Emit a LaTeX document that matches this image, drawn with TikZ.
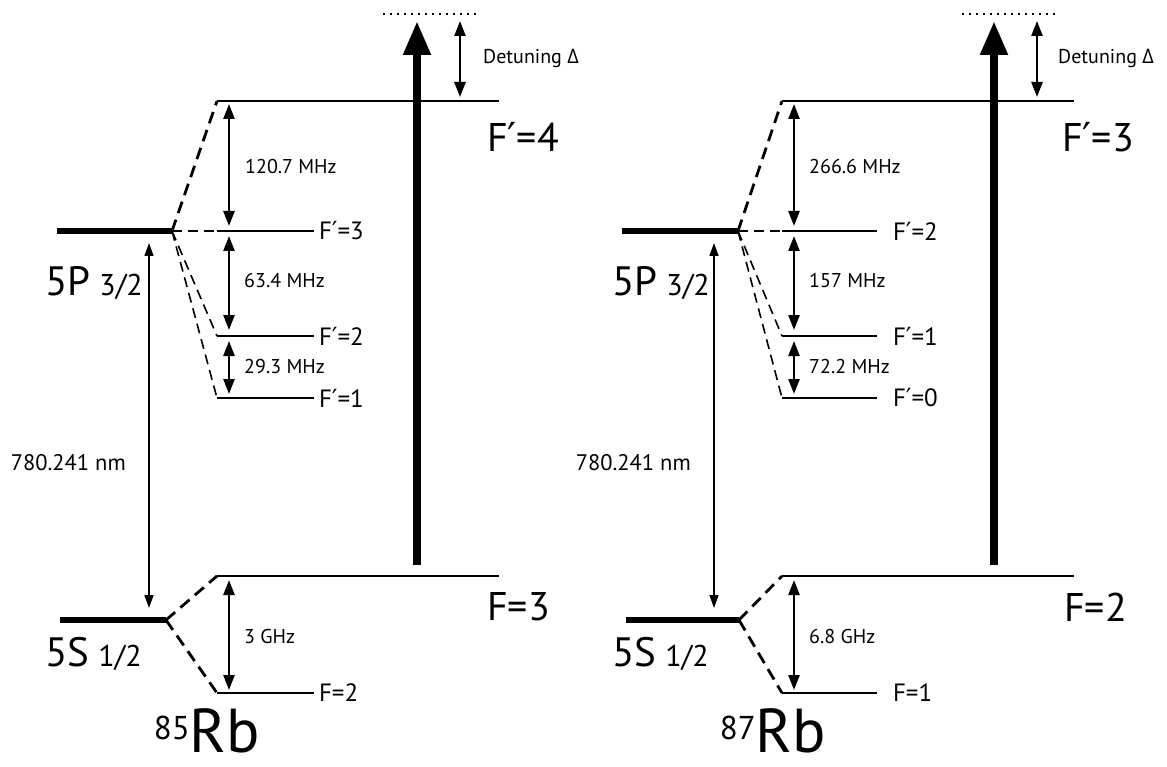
\documentclass[tikz,border=0pt]{standalone}
\usepackage{fontspec}
\setmainfont{PT Sans}
\newfontfamily\grk{Open Sans}
\newfontfamily\djv{DejaVu Sans}
\usetikzlibrary{arrows.meta}

\newcommand{\pr}{{\djv\char"2032}}
\newcommand{\smalltxt}{\fontsize{20}{22}\selectfont}
\newcommand{\nmtxt}{\fontsize{22.5}{24}\selectfont}
\newcommand{\midtxt}{\fontsize{25}{28}\selectfont}
\newcommand{\bigtxt}{\fontsize{40}{44}\selectfont}
\newcommand{\termtxt}[2]{{\fontsize{41}{44}\selectfont #1}\hspace{9pt}{\fontsize{30}{32}\selectfont #2}}
\newcommand{\isotxt}[1]{\raisebox{13pt}{\fontsize{33}{35}\selectfont #1}{\fontsize{62}{64}\selectfont Rb}}

\tikzset{
  level/.style={line width=2pt},
  fine level/.style={line width=6.5pt},
  split/.style={line width=2.8pt, dash pattern=on 12pt off 7pt},
  thin split/.style={line width=1.6pt, dash pattern=on 10pt off 6pt},
  gap/.style={{Triangle[length=15pt,width=11pt]}-{Triangle[length=15pt,width=11pt]}, line width=2.4pt},
  optical/.style={{Triangle[length=13pt,width=9pt]}-{Triangle[length=13pt,width=9pt]}, line width=1.5pt},
  laser/.style={-{Triangle[length=34pt,width=26pt]}, line width=8pt},
  detune/.style={line width=2pt, dash pattern=on 2pt off 5pt},
  lbl/.style={inner sep=0pt, anchor=west},
}

\begin{document}
\begin{tikzpicture}[x=1pt,y=-1pt]
   \useasboundingbox (0,0) rectangle (1167,767);
   % ---------- 85Rb ----------
   \coordinate (a5P) at (172,231);
   \coordinate (a5S) at (166,620);
   \coordinate (aF4) at (217,101);
   \coordinate (aF3) at (217,231);
   \coordinate (aF2) at (217,336);
   \coordinate (aF1) at (217,398);
   \coordinate (ag3) at (217,576);
   \coordinate (ag2) at (217,693);
   \draw [fine level] (57,231) -- (a5P);
   \draw [fine level] (60,620) -- (a5S);
   \draw [level] (aF4) -- ++(282,0);
   \draw [level] (aF3) -- ++(97,0) node[lbl,xshift=4pt] (aF3t) {\midtxt F\pr=3};
   \draw [level] (aF2) -- ++(97,0) node[lbl,xshift=4pt] (aF2t) {\midtxt F\pr=2};
   \draw [level] (aF1) -- ++(97,0) node[lbl,xshift=4pt] (aF1t) {\midtxt F\pr=1};
   \draw [level] (ag3) -- ++(282,0);
   \draw [level] (ag2) -- ++(97,0) node[lbl,xshift=4pt] (ag2t) {\midtxt F=2};
   \draw [split] (a5P) -- (aF4);
   \draw [thin split] (a5P) -- (aF3);
   \draw [thin split] (a5P) -- (aF2);
   \draw [thin split] (a5P) -- (aF1);
   \draw [split] (a5S) -- (ag3);
   \draw [split] (a5S) -- (ag2);
   \draw [gap] ([shift={(12,3)}]aF4) -- ([shift={(12,-5)}]aF3);
   \draw [gap] ([shift={(12,5)}]aF3) -- ([shift={(12,-6)}]aF2);
   \draw [gap] ([shift={(12,5)}]aF2) -- ([shift={(12,-4)}]aF1);
   \draw [gap] ([shift={(12,4)}]ag3) -- ([shift={(12,-3)}]ag2);
   \node[lbl] (a1207) at (245,167) {\smalltxt 120.7 MHz};
   \node[lbl] (a634) at (244,281) {\smalltxt 63.4 MHz};
   \node[lbl] (a293) at (244,366) {\smalltxt 29.3 MHz};
   \node[lbl] (a3G) at (244,636) {\smalltxt 3 GHz};
   \draw [optical] (149,243) -- (149,608);
   \node[inner sep=0pt, anchor=east] (a780) at (126,463) {\nmtxt 780.241 nm};
   \draw [laser] (417,565) -- (417,21);
   \draw [detune] (383,14) -- (478,14);
   \draw [gap] (460,21) -- (460,97);
   \node[lbl] (adet) at (483,58) {\smalltxt Detuning {\grk Δ}};
   \node[lbl] (aF4t) at (487,137) {\bigtxt F\pr=4};
   \node[lbl] (ag3t) at (487,607) {\bigtxt F=3};
   \node[lbl] (a5Pt) at (45,283) {\termtxt{5P}{3/2}};
   \node[lbl] (a5St) at (45,654) {\termtxt{5S}{1/2}};
   \node (a85) at (207,731) {\isotxt{85}};
   % ---------- 87Rb ----------
   \coordinate (b5P) at (738,231);
   \coordinate (b5S) at (739,620);
   \coordinate (bF3) at (782,101);
   \coordinate (bF2) at (782,231);
   \coordinate (bF1) at (782,336);
   \coordinate (bF0) at (782,398);
   \coordinate (bg2) at (782,576);
   \coordinate (bg1) at (782,693);
   \draw [fine level] (622,231) -- (b5P);
   \draw [fine level] (626,620) -- (b5S);
   \draw [level] (bF3) -- ++(292,0);
   \draw [level] (bF2) -- ++(95,0) node[lbl,xshift=15pt] (bF2t) {\midtxt F\pr=2};
   \draw [level] (bF1) -- ++(95,0) node[lbl,xshift=15pt] (bF1t) {\midtxt F\pr=1};
   \draw [level] (bF0) -- ++(95,0) node[lbl,xshift=15pt] (bF0t) {\midtxt F\pr=0};
   \draw [level] (bg2) -- ++(292,0);
   \draw [level] (bg1) -- ++(95,0) node[lbl,xshift=15pt] (bg1t) {\midtxt F=1};
   \draw [split] (b5P) -- (bF3);
   \draw [thin split] (b5P) -- (bF2);
   \draw [thin split] (b5P) -- (bF1);
   \draw [thin split] (b5P) -- (bF0);
   \draw [split] (b5S) -- (bg2);
   \draw [split] (b5S) -- (bg1);
   \draw [gap] ([shift={(12,3)}]bF3) -- ([shift={(12,-5)}]bF2);
   \draw [gap] ([shift={(12,5)}]bF2) -- ([shift={(12,-6)}]bF1);
   \draw [gap] ([shift={(12,5)}]bF1) -- ([shift={(12,-4)}]bF0);
   \draw [gap] ([shift={(12,4)}]bg2) -- ([shift={(12,-3)}]bg1);
   \node[lbl] (b2666) at (809,167) {\smalltxt 266.6 MHz};
   \node[lbl] (b157) at (809,281) {\smalltxt 157 MHz};
   \node[lbl] (b722) at (809,366) {\smalltxt 72.2 MHz};
   \node[lbl] (b68G) at (809,636) {\smalltxt 6.8 GHz};
   \draw [optical] (714,243) -- (714,608);
   \node[inner sep=0pt, anchor=east] (b780) at (691,463) {\nmtxt 780.241 nm};
   \draw [laser] (994,565) -- (994,21);
   \draw [detune] (962,14) -- (1058,14);
   \draw [gap] (1037,21) -- (1037,97);
   \node[lbl] (bdet) at (1058,58) {\smalltxt Detuning {\grk Δ}};
   \node[lbl] (bF3t) at (1062,137) {\bigtxt F\pr=3};
   \node[lbl] (bg2t) at (1064,607) {\bigtxt F=2};
   \node[lbl] (b5Pt) at (612,283) {\termtxt{5P}{3/2}};
   \node[lbl] (b5St) at (612,654) {\termtxt{5S}{1/2}};
   \node (b87) at (773,731) {\isotxt{87}};
\end{tikzpicture}
\end{document}
